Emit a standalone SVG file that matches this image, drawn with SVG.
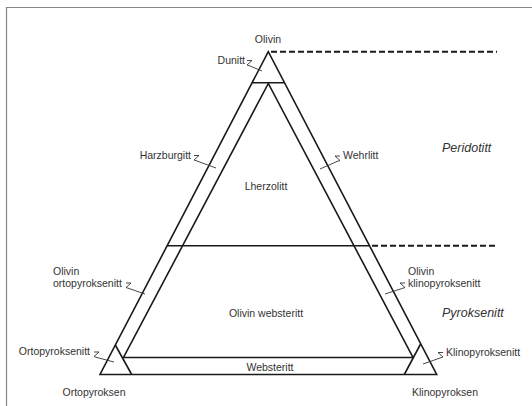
<svg xmlns="http://www.w3.org/2000/svg" width="532" height="406" viewBox="0 0 532 406">
<style>
.ln{fill:none;stroke:#1a1a1a;stroke-width:1.6;stroke-linejoin:miter}
.ds{fill:none;stroke:#1a1a1a;stroke-width:2;stroke-dasharray:6 3}
.ld{fill:none;stroke:#333;stroke-width:0.9;stroke-linejoin:round}
.t{font-family:"Liberation Sans",Arial,sans-serif;font-size:10.5px;fill:#333}
.it{font-family:"Liberation Sans",Arial,sans-serif;font-size:12.5px;font-style:italic;fill:#333}
.m{text-anchor:middle}
.e{text-anchor:end}
</style>
<rect width="532" height="406" fill="#fff"/>
<path d="M6.5,406 V7.5 H532" fill="none" stroke="#888" stroke-width="1.2"/>
<g id="frame">
<polygon class="ln" points="268.3,51.7 100,374.5 436.7,374.5"/>
<polygon class="ln" points="268.3,83.5 123.5,357.5 413,357.5"/>
<line class="ln" x1="251.7" y1="82.7" x2="284.9" y2="82.7"/>
<line class="ln" x1="167.2" y1="245.7" x2="369.4" y2="245.7"/>
<line class="ln" x1="115.3" y1="345" x2="131.7" y2="374.5"/>
<line class="ln" x1="420.6" y1="344" x2="404.3" y2="374.5"/>
</g>
<g id="connectors">
<line class="ds" x1="271" y1="51.7" x2="497" y2="51.7"/>
<line class="ds" x1="372" y1="245.7" x2="497" y2="245.7"/>
<path class="ld" d="M247,60.5 h5 l-5,4.5 l3,1 L262,71"/>
<path class="ld" d="M194,155.5 h5 l-5,4.5 l3,1 L216,168"/>
<path class="ld" d="M126,283 h5 l-5,4.5 l3,1 L145,294"/>
<path class="ld" d="M94,352 h5 l-5,4.5 l3,1 L114,362"/>
<path class="ld" d="M340,156 h-5 l5,4.5 l-3,1 L320,169"/>
<path class="ld" d="M405,283 h-5 l5,4.5 l-3,1 L385,294"/>
<path class="ld" d="M443,352.5 h-5 l5,4.5 l-3,1 L423,364"/>
</g>
<g id="olivin"><text class="t m" x="268" y="43">Olivin</text></g>
<g id="dunitt"><text class="t e" x="245" y="64">Dunitt</text></g>
<g id="harzburgitt"><text class="t e" x="191" y="159">Harzburgitt</text></g>
<g id="wehrlitt"><text class="t" x="343" y="159">Wehrlitt</text></g>
<g id="lherzolitt"><text class="t m" x="266" y="190">Lherzolitt</text></g>
<g id="peridotitt"><text class="it" x="442" y="152">Peridotitt</text></g>
<g id="olivin-ortopyroksenitt"><text class="t" x="53" y="275">Olivin</text><text class="t" x="53" y="287">ortopyroksenitt</text></g>
<g id="olivin-klinopyroksenitt"><text class="t" x="408" y="275">Olivin</text><text class="t" x="408" y="287">klinopyroksenitt</text></g>
<g id="olivin-websteritt"><text class="t m" x="266" y="317">Olivin websteritt</text></g>
<g id="pyroksenitt"><text class="it" x="442" y="317">Pyroksenitt</text></g>
<g id="ortopyroksenitt"><text class="t e" x="90" y="355">Ortopyroksenitt</text></g>
<g id="klinopyroksenitt"><text class="t" x="446" y="356">Klinopyroksenitt</text></g>
<g id="websteritt"><text class="t m" x="270" y="371">Websteritt</text></g>
<g id="ortopyroksen"><text class="t m" x="94" y="396">Ortopyroksen</text></g>
<g id="klinopyroksen"><text class="t m" x="445" y="396">Klinopyroksen</text></g>
</svg>
